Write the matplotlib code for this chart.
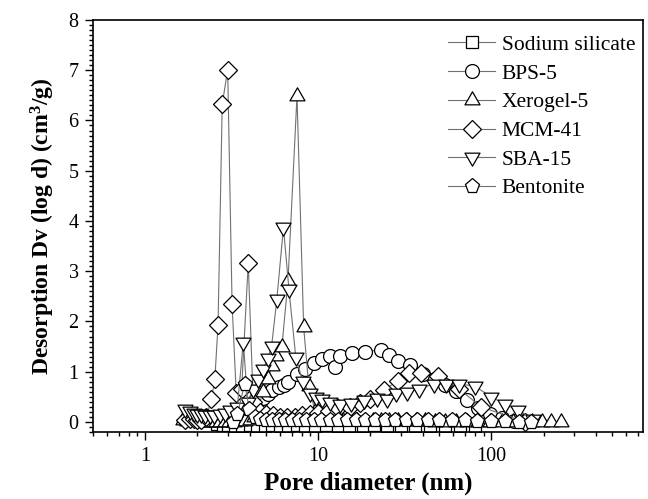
import matplotlib
matplotlib.use("Agg")
import matplotlib.pyplot as plt
from matplotlib.path import Path
from matplotlib.ticker import MultipleLocator, LogLocator, NullFormatter, FixedLocator, FixedFormatter

# ---- data (pore diameter in nm, Dv in cm3/g) ----
sodium_d = [2.6, 2.8, 3.0, 3.3, 3.6, 4.0, 4.4, 4.9, 5.4, 6.0, 6.7, 7.5, 8.4, 9.5,
            11, 13, 15, 18, 21, 25, 30, 36, 44, 54, 66, 80]
sodium_dv = [-0.05, -0.07, -0.07, -0.08, -0.08, -0.07, -0.08, -0.08, -0.07, -0.08, -0.08,
             -0.07, -0.08, -0.08, -0.07, -0.08, -0.08, -0.08, -0.07, -0.08, -0.08, -0.08,
             -0.08, -0.08, -0.08, -0.08]

bps_d = [4.0, 4.3, 4.6, 4.8, 5.1, 5.4, 5.9, 6.3, 6.7, 7.5, 8.4, 9.4, 10.5, 11.7, 12.4,
         13.4, 15.7, 18.5, 22.9, 25.7, 28.7, 34, 40, 47, 54, 62.6, 72, 84, 98, 115, 135]
bps_dv = [0.15, 0.3, 0.4, 0.48, 0.55, 0.64, 0.69, 0.74, 0.8, 0.95, 1.06, 1.17, 1.25, 1.32,
          1.09, 1.32, 1.37, 1.39, 1.44, 1.33, 1.21, 1.13, 0.96, 0.86, 0.74, 0.61, 0.43,
          0.28, 0.16, 0.07, 0.02]

xero_d = [1.66, 1.75, 1.85, 1.95, 2.05, 2.15, 2.27, 2.4, 2.55, 2.7, 2.87, 3.05, 3.25, 3.5,
          3.75, 4.0, 4.25, 4.5, 4.8, 5.1, 5.4, 5.7, 6.15, 6.67, 7.52, 8.22, 8.8, 9.6, 10.5,
          11.5, 12.6, 13.8, 15.2, 16.8, 18.6, 20.6, 23, 25.7, 28.8, 32.4, 36.6, 41.5, 47,
          54, 62, 72, 84, 98, 115, 133, 152, 172, 195, 222, 252]
xero_dv = [0.03, 0.02, 0.02, 0.01, 0.01, 0.0, 0.0, 0.0, 0.0, 0.0, 0.0, 0.0, 0.0, 0.01,
           0.02, 0.03, 0.1, 0.3, 0.6, 0.86, 1.12, 1.32, 1.49, 2.8, 6.49, 1.88, 0.71, 0.2,
           0.05, 0.03, 0.02, 0.02, 0.02, 0.02, 0.01, 0.01, 0.01, 0.01, 0.01, 0.01, 0.01,
           0.01, 0.0, 0.0, 0.0, 0.0, 0.0, 0.0, 0.0, 0.0, 0.0, 0.0, 0.0, 0.0, 0.0]

mcm_d = [1.7, 1.8, 1.9, 2.0, 2.1, 2.25, 2.41, 2.52, 2.63, 2.78, 2.99, 3.17, 3.35, 3.6,
         3.93, 4.2, 4.6, 5.0, 5.5, 6.0, 6.6, 7.3, 8.0, 9.0, 10, 11.5, 13, 15.3, 17.5, 20,
         24, 28.9, 33.4, 39, 49, 65, 87, 156]
mcm_dv = [0.04, 0.06, 0.06, 0.04, 0.04, 0.1, 0.45, 0.86, 1.93, 6.32, 7.01, 2.34, 0.57, 0.66,
          3.16, 0.4, 0.2, 0.15, 0.13, 0.1, 0.1, 0.1, 0.13, 0.15, 0.18, 0.22, 0.27, 0.3,
          0.37, 0.45, 0.64, 0.82, 0.98, 0.98, 0.91, 0.66, 0.3, 0.0]

sba_d = [1.7, 1.8, 1.9, 2.0, 2.1, 2.2, 2.35, 2.5, 2.7, 2.9, 3.1, 3.4, 3.68, 3.9, 4.2, 4.5,
         4.8, 5.1, 5.37, 5.75, 6.28, 6.75, 7.4, 8.1, 8.9, 9.7, 10.5, 11.7, 13.4, 15.5, 18.3,
         21.9, 25, 28, 32.6, 38.2, 46.8, 55, 65, 80, 100, 120, 143, 175]
sba_dv = [0.25, 0.21, 0.18, 0.16, 0.15, 0.14, 0.13, 0.13, 0.15, 0.17, 0.23, 0.3, 1.59, 0.4,
          0.66, 0.86, 1.06, 1.27, 1.52, 2.44, 3.87, 2.65, 1.29, 0.81, 0.57, 0.5, 0.45, 0.4,
          0.35, 0.37, 0.43, 0.47, 0.45, 0.57, 0.6, 0.66, 0.76, 0.76, 0.76, 0.71, 0.5, 0.35,
          0.23, 0.06]

bent_d = [3.2, 3.4, 3.75, 3.99, 4.3, 4.6, 5.0, 5.4, 5.9, 6.4, 7.0, 7.7, 8.5, 9.4, 10.4,
          11.6, 13, 14.6, 16.5, 18.7, 21.3, 24.3, 27.8, 32, 37, 43, 50, 59, 70, 83, 100,
          120, 145, 170]
bent_dv = [0.0, 0.15, 0.76, 0.25, 0.1, 0.06, 0.04, 0.04, 0.04, 0.04, 0.04, 0.04, 0.04,
           0.04, 0.04, 0.04, 0.04, 0.04, 0.04, 0.04, 0.04, 0.04, 0.04, 0.04, 0.04, 0.04,
           0.04, 0.03, 0.03, 0.02, 0.02, 0.01, 0.0, 0.0]

# equilateral triangles (matplotlib's '^' is as tall as it is wide)
codes = [Path.MOVETO, Path.LINETO, Path.LINETO, Path.CLOSEPOLY]
tri_up = Path([(0, 1), (-0.866, -0.5), (0.866, -0.5), (0, 1)], codes)
tri_down = Path([(0, -1), (-0.866, 0.5), (0.866, 0.5), (0, -1)], codes)

series = [
    ("Sodium silicate", sodium_d, sodium_dv, "s", 8.5),
    ("BPS-5", bps_d, bps_dv, "o", 10),
    ("Xerogel-5", xero_d, xero_dv, tri_up, 12.5),
    ("MCM-41", mcm_d, mcm_dv, "D", 9),
    ("SBA-15", sba_d, sba_dv, tri_down, 12.5),
    ("Bentonite", bent_d, bent_dv, "p", 11),
]

plt.rcParams['font.family'] = ['Liberation Serif', 'DejaVu Serif']
plt.rcParams['mathtext.fontset'] = 'custom'
plt.rcParams['mathtext.rm'] = 'Liberation Serif'
plt.rcParams['mathtext.bf'] = 'Liberation Serif:bold'

fig = plt.figure(figsize=(6.48, 4.99), dpi=100)
ax = fig.add_axes([0.144, 0.1343, 0.848, 0.8257])

for name, d, dv, mk, ms in series:
    ax.plot(d, dv, color='#707070', lw=0.8, marker=mk, markersize=ms,
            markerfacecolor='white', markeredgecolor='black', markeredgewidth=0.9,
            label=name)

ax.set_xscale('log')
ax.set_xlim(0.5, 750)
ax.set_ylim(-0.2, 8)

ax.xaxis.set_major_locator(FixedLocator([1, 10, 100]))
ax.xaxis.set_major_formatter(FixedFormatter(['1', '10', '100']))
ax.xaxis.set_minor_locator(LogLocator(base=10, subs=range(2, 10), numticks=20))
ax.xaxis.set_minor_formatter(NullFormatter())
ax.yaxis.set_major_locator(MultipleLocator(1))
ax.yaxis.set_minor_locator(MultipleLocator(0.1))

ax.tick_params(which='both', direction='out', top=False, right=False, width=1.0,
               labelsize=14.5)
ax.tick_params(which='major', length=6, pad=4.5)
ax.tick_params(which='minor', length=3)
for sp in ax.spines.values():
    sp.set_linewidth(1.2)

ax.set_xlabel('Pore diameter (nm)', fontsize=18, fontweight='bold', labelpad=4)
ax.set_ylabel(r'Desorption Dv (log d) (cm$\mathbf{^3}$/g)', fontsize=17,
              fontweight='bold', labelpad=8)

ax.legend(loc='upper right', bbox_to_anchor=(1.01, 0.995), frameon=False,
          fontsize=15.5, handlelength=2.2, handletextpad=0.3, labelspacing=0.4,
          borderaxespad=0.2)

fig.savefig('out.png', dpi=100)
